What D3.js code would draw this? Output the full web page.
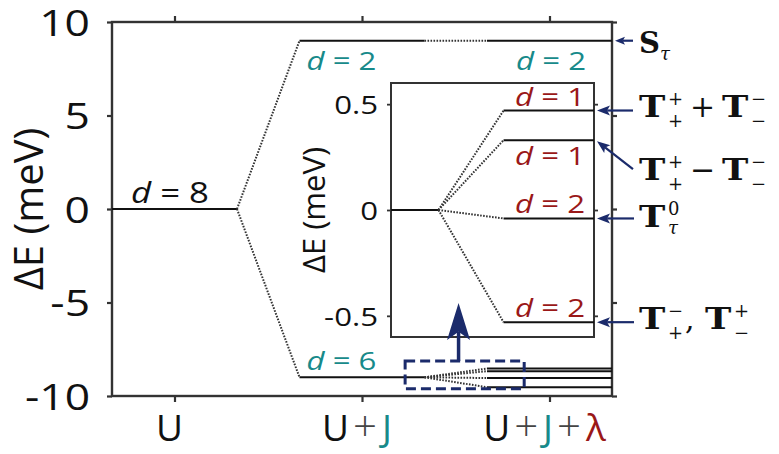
<!DOCTYPE html>
<html><head><meta charset="utf-8">
<script src="https://cdn.jsdelivr.net/npm/d3@7"></script>
<style>
body{margin:0;background:#fff}
text{font-family:"Open Sans","Noto Sans",sans-serif}
.mb{font-family:"DejaVu Serif",serif;font-weight:bold;font-size:29px;fill:#111}
.ms{font-family:"DejaVu Serif",serif;font-size:18px;fill:#111}
.mo{font-family:"DejaVu Serif",serif;font-size:30px;fill:#111}
</style>
</head><body><svg id="c" width="779" height="454"></svg>
<script>
// ---------- data ----------
const categories = ["U", "U+J", "U+J+λ"];
const categoryX = [1, 2, 3];
const yTicks = [-10, -5, 0, 5, 10];
const levelsU = [0];
const degU = [8];
const levelsUJ = [9, -9];
const degUJ = [2, 6];
const levelsUJLtop = [9];
const degUJLtop = [2];
const insetLevels = [0.47, 0.33, -0.04, -0.53];
const insetDeg = [1, 1, 2, 2];
const insetTicks = [-0.5, 0, 0.5];
const stateTerms = [
  [["S", "", "τ"]],
  [["T", "+", "+"], "+", ["T", "−", "−"]],
  [["T", "+", "+"], "−", ["T", "−", "−"]],
  [["T", "0", "τ"]],
  [["T", "−", "+"], ",", ["T", "+", "−"]]
];

// ---------- setup ----------
const TEAL = "#178a8a", RED = "#9a1818", NAVY = "#1b2b6b", AX = "#333";
const svg = d3.select("#c");
svg.append("rect").attr("width", 779).attr("height", 454).attr("fill", "#fff");

const half = 1 / 3;
const x = d3.scaleLinear().domain([categoryX[0] - half, categoryX[2] + half]).range([112, 612]);
const y = d3.scaleLinear().domain([-10, 10]).range([396, 22]);
const xi = d3.scaleLinear().domain([2.09, 3.13]).range([391, 594]);
const yi = d3.scaleLinear().domain([-0.6, 0.6]).range([337, 83]);

const SX = 1.2;

function styleAxis(g, w) {
  g.select(".domain").remove();
  g.selectAll(".tick line").attr("stroke", AX).attr("stroke-width", w);
}

// main axes
const gL = svg.append("g").attr("transform", `translate(${x.range()[0]},0)`)
  .call(d3.axisLeft(y).tickValues(yTicks).tickSize(5).tickFormat(d => String(d)));
styleAxis(gL, 2.2);
gL.selectAll(".tick text").attr("font-size", 37).attr("fill", "#111")
  .attr("x", -22 / SX).attr("dy", "0.36em").attr("transform", `scale(${SX},1)`)
  .style("font-family", '"Open Sans",sans-serif');
const gR = svg.append("g").attr("transform", `translate(${x.range()[1]},0)`)
  .call(d3.axisRight(y).tickValues(yTicks).tickSize(5).tickFormat(""));
styleAxis(gR, 2.2);
const gB = svg.append("g").attr("transform", `translate(0,${y.range()[0]})`)
  .call(d3.axisBottom(x).tickValues(categoryX).tickSize(6).tickFormat(""));
styleAxis(gB, 2.2);
const gT = svg.append("g").attr("transform", `translate(0,${y.range()[1]})`)
  .call(d3.axisTop(x).tickValues(categoryX).tickSize(6).tickFormat(""));
styleAxis(gT, 2.2);

// x category labels
const catColors = {"U": "#111", "+": "#444", "J": TEAL, "λ": RED};
categories.forEach((c, i) => {
  const t = svg.append("text").attr("x", x(categoryX[i]) - 5).attr("y", y.range()[0] + 45)
    .attr("text-anchor", "middle").attr("font-size", 37);
  c.split("").forEach((ch, k) => {
    const ts = t.append("tspan").attr("fill", catColors[ch]).text(ch);
    if (ch === "+") ts.attr("font-size", 42).attr("font-weight", 300).attr("dx", 4);
    if (k > 0 && ch !== "+") ts.attr("dx", 5);
  });
});

// y label
svg.append("text").attr("transform", "translate(43,209) rotate(-90)")
  .attr("text-anchor", "middle").attr("font-size", 40).attr("fill", "#111").text("ΔE (meV)");

// frame
svg.append("rect").attr("x", x.range()[0]).attr("y", y.range()[1])
  .attr("width", x.range()[1] - x.range()[0]).attr("height", y.range()[0] - y.range()[1])
  .attr("fill", "none").attr("stroke", AX).attr("stroke-width", 2.4);

// ---------- level drawing helpers ----------
const lvl = (g, sx, sy, cx, v) => g.append("line")
  .attr("x1", sx(cx - half)).attr("x2", sx(cx + half)).attr("y1", sy(v)).attr("y2", sy(v))
  .attr("stroke", "#111").attr("stroke-width", 2);
const dot = (g, sx, sy, xa, va, xb, vb) => g.append("line")
  .attr("x1", sx(xa)).attr("y1", sy(va)).attr("x2", sx(xb)).attr("y2", sy(vb))
  .attr("stroke", "#333").attr("stroke-width", 2).attr("stroke-dasharray", "1.6,1.4");

const gm = svg.append("g");
levelsU.forEach(v => lvl(gm, x, y, categoryX[0], v));
levelsUJ.forEach(v => {
  lvl(gm, x, y, categoryX[1], v);
  dot(gm, x, y, categoryX[0] + half, levelsU[0], categoryX[1] - half, v);
});
levelsUJLtop.forEach(v => {
  lvl(gm, x, y, categoryX[2], v);
  dot(gm, x, y, categoryX[1] + half, levelsUJ[0], categoryX[2] - half, v);
});
const lowBase = levelsUJ[1];
insetLevels.forEach(s => {
  lvl(gm, x, y, categoryX[2], lowBase + s);
  dot(gm, x, y, categoryX[1] + half, lowBase, categoryX[2] - half, lowBase + s);
});

// degeneracy labels
function dLabel(g, px, py, n, color, anchor, fs) {
  const t = g.append("text").attr("transform", `translate(${px},${py}) scale(${SX},1)`)
    .attr("font-size", fs || 26).attr("fill", color).attr("text-anchor", anchor || "start");
  t.append("tspan").attr("font-style", "italic").text("d");
  t.append("tspan").text(" = " + n);
}
dLabel(gm, x(categoryX[0] - half) + 19, y(levelsU[0]) - 6, degU[0], "#111", "start", 29);
dLabel(gm, x(categoryX[1] - half) + 7, y(levelsUJ[0]) + 29, degUJ[0], TEAL);
dLabel(gm, x(categoryX[1] - half) + 7, y(levelsUJ[1]) - 7, degUJ[1], TEAL);
dLabel(gm, x(categoryX[2] + half) - 26, y(levelsUJLtop[0]) + 29, degUJLtop[0], TEAL, "end");

// ---------- zoom box ----------
const bx0 = x(2.23), bx1 = x(2.865), by0 = y(-8.13), by1 = y(-9.61);
svg.append("rect").attr("x", bx0).attr("y", by0).attr("width", bx1 - bx0).attr("height", by1 - by0)
  .attr("fill", "none").attr("stroke", NAVY).attr("stroke-width", 3).attr("stroke-dasharray", "10,5");

// ---------- inset ----------
const gi = svg.append("g");
gi.append("rect").attr("x", xi.range()[0]).attr("y", yi.range()[1])
  .attr("width", xi.range()[1] - xi.range()[0]).attr("height", yi.range()[0] - yi.range()[1])
  .attr("fill", "#fff").attr("stroke", AX).attr("stroke-width", 2);
const giL = gi.append("g").attr("transform", `translate(${xi.range()[0]},0)`)
  .call(d3.axisLeft(yi).tickValues(insetTicks).tickSize(4).tickFormat(d => d === 0 ? "0" : String(d)));
styleAxis(giL, 1.8);
giL.selectAll(".tick text").attr("font-size", 26).attr("fill", "#111")
  .attr("x", -13 / SX).attr("dy", "0.36em").attr("transform", `scale(${SX},1)`)
  .style("font-family", '"Open Sans",sans-serif');
const giR = gi.append("g").attr("transform", `translate(${xi.range()[1]},0)`)
  .call(d3.axisRight(yi).tickValues(insetTicks).tickSize(4).tickFormat(""));
styleAxis(giR, 1.8);
gi.append("text").attr("transform", "translate(325,210) rotate(-90)")
  .attr("text-anchor", "middle").attr("font-size", 31).attr("fill", "#111").text("ΔE (meV)");

gi.append("line").attr("x1", xi.range()[0]).attr("x2", xi(categoryX[1] + half))
  .attr("y1", yi(0)).attr("y2", yi(0)).attr("stroke", "#111").attr("stroke-width", 2);
insetLevels.forEach((s, i) => {
  gi.append("line").attr("x1", xi(categoryX[2] - half)).attr("x2", xi.range()[1])
    .attr("y1", yi(s)).attr("y2", yi(s)).attr("stroke", "#111").attr("stroke-width", 2);
  dot(gi, xi, yi, categoryX[1] + half, 0, categoryX[2] - half, s);
  const below = i === 1;
  dLabel(gi, xi.range()[1] - 9, yi(s) + (below ? 25 : -5), insetDeg[i], RED, "end");
});

// arrows
function arrow(g, x1, y1, x2, y2, len, wid, sw) {
  const ang = Math.atan2(y2 - y1, x2 - x1);
  const ux = Math.cos(ang), uy = Math.sin(ang), nx = -uy, ny = ux;
  const bxp = x2 - ux * len, byp = y2 - uy * len;
  const notch = x2 - ux * len * 0.78, notchy = y2 - uy * len * 0.78;
  g.append("line").attr("x1", x1).attr("y1", y1).attr("x2", notch).attr("y2", notchy)
    .attr("stroke", NAVY).attr("stroke-width", sw);
  g.append("path").attr("d",
    `M${x2},${y2} L${bxp + nx * wid / 2},${byp + ny * wid / 2} L${notch},${notchy} L${bxp - nx * wid / 2},${byp - ny * wid / 2} Z`)
    .attr("fill", NAVY);
}
const ga = svg.append("g");
arrow(ga, x(2.515), by0, x(2.515), 303, 37, 23, 3.5);

// ---------- state labels with arrows ----------
const targets = [
  {tx: x.range()[1] + 3, ty: y(levelsUJLtop[0]), sx: 633, sy: y(levelsUJLtop[0]), lb: y(levelsUJLtop[0]) + 12, hl: 10, hw: 8},
  {tx: xi.range()[1] + 3, ty: yi(insetLevels[0]), sx: 633, sy: yi(insetLevels[0]), lb: yi(insetLevels[0]) + 6, hl: 13, hw: 10},
  {tx: xi.range()[1] + 3, ty: yi(insetLevels[1]) + 1, sx: 633, sy: yi(insetLevels[1]) + 29, lb: yi(insetLevels[1]) + 40, hl: 13, hw: 10},
  {tx: xi.range()[1] + 3, ty: yi(insetLevels[2]), sx: 634, sy: yi(insetLevels[2]), lb: yi(insetLevels[2]) + 9, hl: 13, hw: 10},
  {tx: xi.range()[1] + 3, ty: yi(insetLevels[3]), sx: 634, sy: yi(insetLevels[3]), lb: yi(insetLevels[3]) + 7, hl: 13, hw: 10}
];
const gs = svg.append("g");
stateTerms.forEach((terms, i) => {
  const t = targets[i];
  arrow(gs, t.sx, t.sy, t.tx, t.ty, t.hl, t.hw, 2.2);
  let cx = 639;
  terms.forEach(term => {
    if (Array.isArray(term)) {
      const [base, sup, sub] = term;
      gs.append("text").attr("class", "mb")
        .attr("transform", `translate(${cx},${t.lb}) scale(${base === "T" ? 1.22 : 1.0},1)`).text(base);
      const w = base === "T" ? 28 : 20;
      if (sup) gs.append("text").attr("class", "ms").attr("x", cx + w + 1).attr("y", t.lb - 12).text(sup);
      if (sub) {
        const st = gs.append("text").attr("class", "ms").attr("x", cx + w + 1).attr("y", t.lb + (sub === "τ" ? 7 : 10)).text(sub);
        if (sub === "τ") st.attr("font-style", "italic");
      }
      cx += w + 15;
    } else if (term === ",") {
      gs.append("text").attr("class", "mo").attr("x", cx + 3).attr("y", t.lb).text(",");
      cx += 23;
    } else {
      gs.append("text").attr("class", "mo").attr("x", cx + 8).attr("y", t.lb).text(term);
      cx += 40;
    }
  });
});
</script>
</body></html>
